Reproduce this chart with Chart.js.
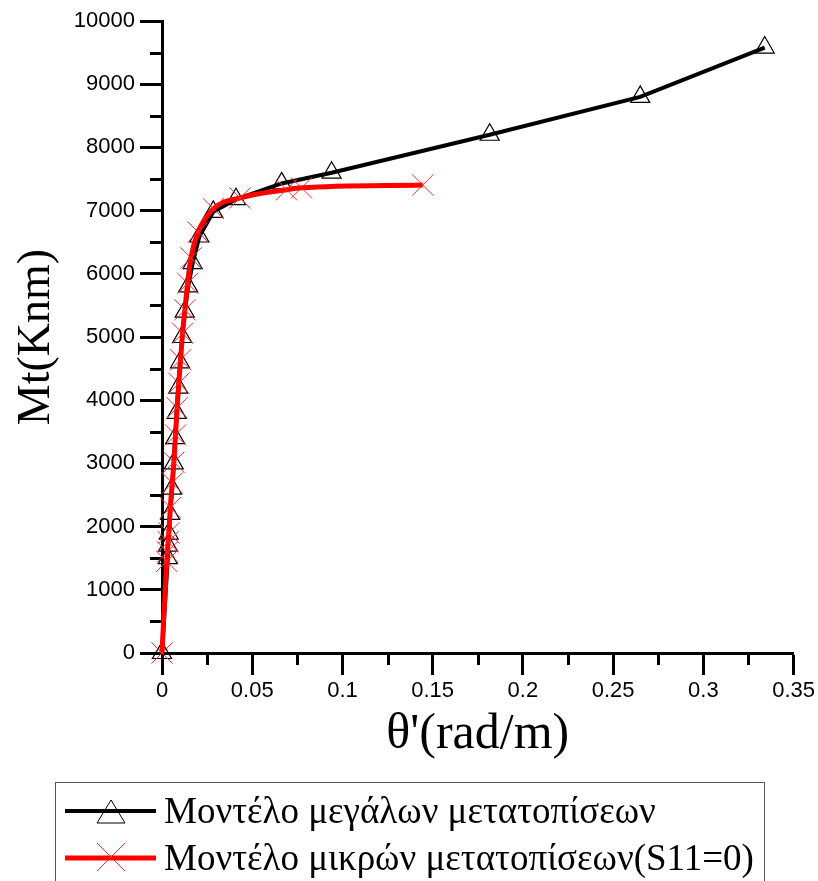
<!DOCTYPE html>
<html>
<head>
<meta charset="utf-8">
<script src="https://cdn.jsdelivr.net/npm/chart.js@4.4.1/dist/chart.umd.min.js"></script>
<style>
  html, body { margin: 0; padding: 0; background: #fff; }
  #wrap { position: relative; width: 818px; height: 881px; overflow: hidden; }
  #chart { position: absolute; left: 0; top: 0; }
  .legend {
    position: absolute; left: 55px; top: 782px; width: 710px; height: 140px;
    border: 1px solid #555; box-sizing: border-box;
    font-family: "Liberation Serif", "Times New Roman", serif;
  }
  .legend .row { position: absolute; left: 0; width: 100%; height: 46px; }
  .legend svg { position: absolute; left: 0; top: 0; }
  .legend span {
    position: absolute; left: 108px; top: 0; line-height: 46px;
    font-size: 37px; white-space: nowrap; color: #000;
  }
</style>
</head>
<body>
<div id="wrap">
  <canvas id="chart" width="818" height="881"></canvas>
  <div class="legend" id="legend"></div>
</div>
<script>
// Μοντέλο μεγάλων μετατοπίσεων (black, triangles)
const bigTheta  = [0, 0.0032, 0.0033, 0.0037, 0.0045, 0.0056, 0.0065, 0.0073, 0.0081, 0.0090, 0.0100,
                   0.0112, 0.0126, 0.0145, 0.0170, 0.0207, 0.0284, 0.0410, 0.0663, 0.0940, 0.1816, 0.2650, 0.3340];
const bigMoment = [0, 1500, 1700, 1890, 2200, 2600, 3000, 3400, 3800, 4200, 4600,
                   5000, 5400, 5800, 6170, 6590, 6980, 7180, 7430, 7600, 8200, 8800, 9580];

// Μοντέλο μικρών μετατοπίσεων (red, crosses)
const smallTheta  = [0, 0.0026, 0.0030, 0.0034, 0.0038, 0.0046, 0.0057, 0.0066, 0.0075, 0.0084, 0.0093,
                     0.0103, 0.0114, 0.0127, 0.0142, 0.0160, 0.0200, 0.0285, 0.0432, 0.0690, 0.0773, 0.1445];
const smallMoment = [0, 1450, 1600, 1760, 1900, 2300, 2690, 3020, 3450, 3880, 4270,
                     4640, 5060, 5430, 5850, 6250, 6660, 7030, 7200, 7330, 7360, 7405];

const seriesNames = ['Μοντέλο μεγάλων μετατοπίσεων', 'Μοντέλο μικρών μετατοπίσεων(S11=0)'];

const xTickValues = [0, 0.05, 0.1, 0.15, 0.2, 0.25, 0.3, 0.35];
const yTickValues = [0, 1000, 2000, 3000, 4000, 5000, 6000, 7000, 8000, 9000, 10000];
const xMinor = [0.025, 0.075, 0.125, 0.175, 0.225, 0.275, 0.325];
const yMinor = [500, 1500, 2500, 3500, 4500, 5500, 6500, 7500, 8500, 9500];

const toPoints = (xs, ys) => xs.map((v, i) => ({ x: v, y: ys[i] }));

const minorTicks = {
  id: 'minorTicks',
  beforeDatasetsDraw(chart) {
    const { ctx, chartArea, scales: { x, y } } = chart;
    ctx.save();
    ctx.strokeStyle = '#000';
    ctx.lineWidth = 3;
    ctx.beginPath();
    yMinor.forEach(v => {
      const py = Math.round(y.getPixelForValue(v)) + 0.5;
      ctx.moveTo(chartArea.left - 12, py);
      ctx.lineTo(chartArea.left, py);
    });
    xMinor.forEach(v => {
      const px = Math.round(x.getPixelForValue(v)) + 0.5;
      ctx.moveTo(px, chartArea.bottom);
      ctx.lineTo(px, chartArea.bottom + 12);
    });
    ctx.stroke();
    ctx.restore();
  }
};

const tickFont = { family: '"Liberation Sans", Arial, sans-serif', size: 22 };
const serif = '"Liberation Serif", "Times New Roman", serif';

const chart = new Chart(document.getElementById('chart'), {
  type: 'line',
  data: {
    datasets: [
      {
        label: seriesNames[1],
        data: toPoints(smallTheta, smallMoment),
        borderColor: '#ff0000',
        borderWidth: 5,
        cubicInterpolationMode: 'monotone',
        pointStyle: 'crossRot',
        pointRadius: 15,
        pointBorderWidth: 1,
        pointBorderColor: '#ff2a2a',
        pointBackgroundColor: 'rgba(0,0,0,0)',
        clip: false,
        order: 0
      },
      {
        label: seriesNames[0],
        data: toPoints(bigTheta, bigMoment),
        borderColor: '#000',
        borderWidth: 4,
        tension: 0,
        pointStyle: 'triangle',
        pointRadius: 11,
        pointBorderWidth: 1.2,
        pointBorderColor: '#000',
        pointBackgroundColor: 'rgba(0,0,0,0)',
        clip: false,
        order: 1
      }
    ]
  },
  options: {
    responsive: false,
    animation: false,
    events: [],
    layout: { padding: { left: 0, top: 21, right: 24, bottom: 118 } },
    plugins: { legend: { display: false }, tooltip: { enabled: false } },
    scales: {
      x: {
        type: 'linear',
        min: 0, max: 0.35,
        afterBuildTicks: s => { s.ticks = xTickValues.map(v => ({ value: v })); },
        afterFit: s => { s.height = 110; },
        border: { display: true, color: '#000', width: 3 },
        grid: { drawOnChartArea: false, drawTicks: true, tickLength: 22, tickWidth: 3, tickColor: '#000' },
        ticks: {
          color: '#000', font: tickFont, padding: 3, maxRotation: 0, autoSkip: false,
          callback: v => String(+v.toFixed(3))
        },
        title: {
          display: true, text: "θ'(rad/m)", color: '#000',
          font: { family: serif, size: 50, lineHeight: 1 },
          padding: { top: 0, bottom: 3 }
        }
      },
      y: {
        type: 'linear',
        min: 0, max: 10000,
        afterBuildTicks: s => { s.ticks = yTickValues.map(v => ({ value: v })); },
        afterFit: s => { s.width = 162; },
        border: { display: true, color: '#000', width: 3 },
        grid: { drawOnChartArea: false, drawTicks: true, tickLength: 22, tickWidth: 3, tickColor: '#000' },
        ticks: { color: '#000', font: tickFont, padding: 5, autoSkip: false, callback: v => String(v) },
        title: {
          display: true, text: 'Mt(Knm)', color: '#000',
          font: { family: serif, size: 46, lineHeight: 1 },
          padding: { top: 14, bottom: 0 }
        }
      }
    }
  },
  plugins: [minorTicks]
});

// legend built from the dataset styles
const legend = document.getElementById('legend');
const rows = [
  { name: seriesNames[0], color: '#000', width: 4, marker: 'tri' },
  { name: seriesNames[1], color: '#ff0000', width: 5, marker: 'x' }
];
rows.forEach((r, i) => {
  const row = document.createElement('div');
  row.className = 'row';
  row.style.top = (5 + i * 47) + 'px';
  const mk = r.marker === 'tri'
    ? '<polygon points="55,12 69,35 41,35" fill="none" stroke="#000" stroke-width="1"/>'
    : '<path d="M41,8 L69,36 M69,8 L41,36" stroke="#ff2a2a" stroke-width="1"/>';
  row.innerHTML = `<svg width="110" height="46">
      <line x1="9" y1="23" x2="100" y2="23" stroke="${r.color}" stroke-width="${r.width}"/>${mk}</svg>
      <span>${r.name}</span>`;
  legend.appendChild(row);
});
</script>
</body>
</html>
